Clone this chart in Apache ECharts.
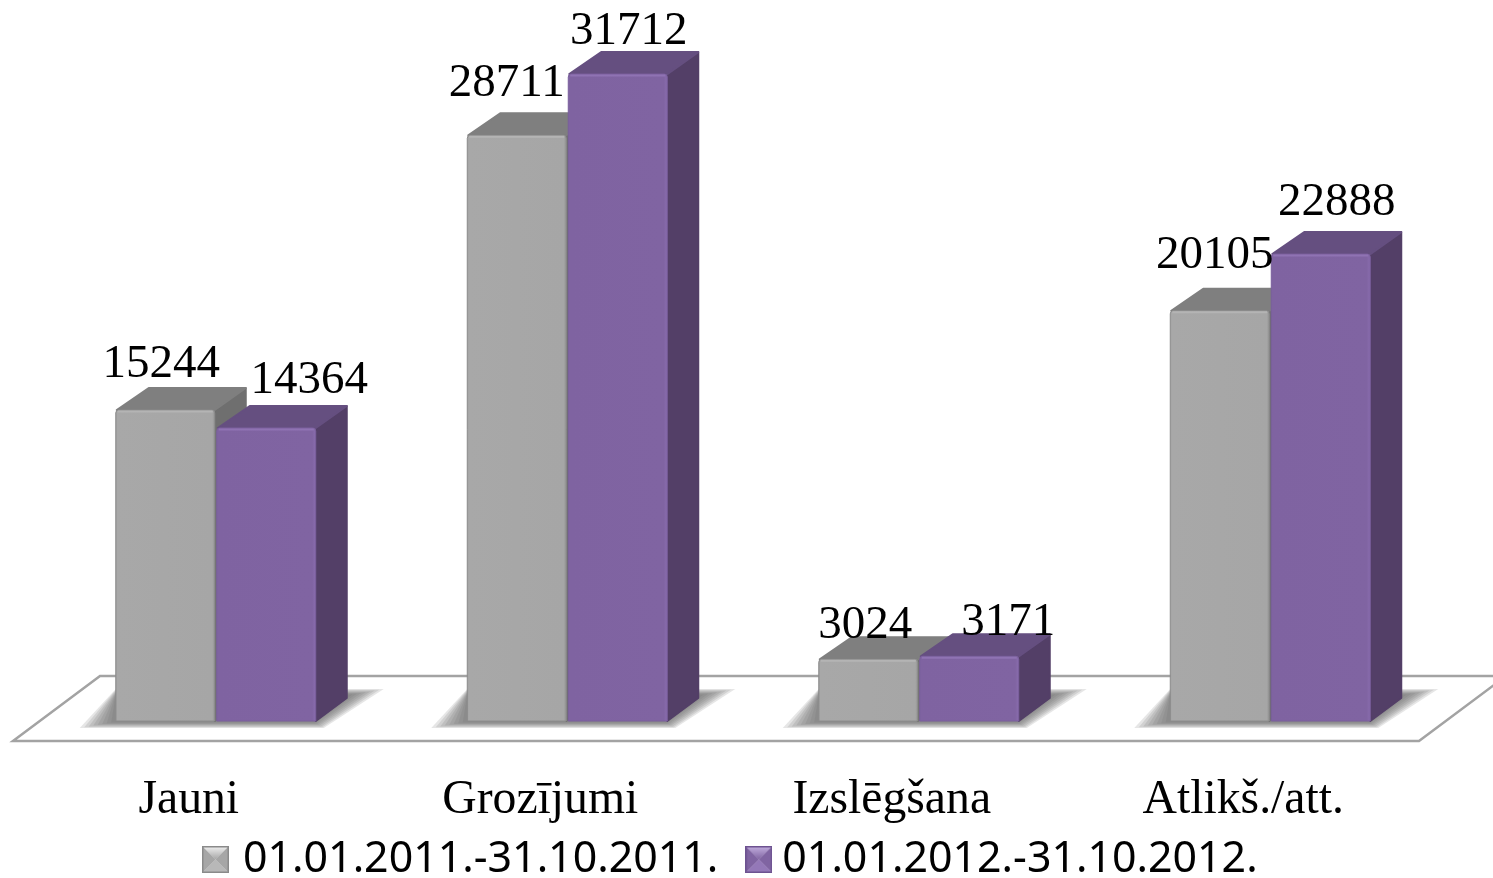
<!DOCTYPE html>
<html>
<head>
<meta charset="utf-8">
<style>
  html, body { margin: 0; padding: 0; background: #fff; }
  #chart { width: 1493px; height: 878px; }
</style>
<script src="https://cdn.jsdelivr.net/npm/echarts@6/dist/echarts.min.js"></script>
</head>
<body>
<div id="chart"></div>
<script>
var categories = ["Jauni", "Grozījumi", "Izslēgšana", "Atlikš./att."];
var seriesNames = ["01.01.2011.-31.10.2011.", "01.01.2012.-31.10.2012."];
var values2011 = [15244, 28711, 3024, 20105];
var values2012 = [14364, 31712, 3171, 22888];

// label nudges [dx, dy] from the centre of the front face top, the source chart had them hand placed
var labelNudge2011 = [[-4, -45], [-10, -52], [-3, -34], [-5, -55]];
var labelNudge2012 = [[43, -47], [11, -42], [39, -34], [16, -51]];

var DEPTH_X = 32;
var DEPTH_Y = 23;
var BAR_WIDTH = 100;
var GROUP_SHIFT = 27;

var faces = [
  {
    front: [[0, "#969696"], [0.02, "#a8a8a8"], [0.97, "#a6a6a6"], [1, "#8f8f8f"]],
    border: "#8c8c8c",
    rim: "#b4b4b4",
    top: "#7f7f7f",
    side: "#6f6f6f",
    swatch: ["#f2f2f2", "#a6a6a6", "#b8b8b8", "#8a8a8a"]
  },
  {
    front: [[0, "#7d62a0"], [0.02, "#7f63a1"], [0.96, "#8064a2"], [1, "#8b6eb0"]],
    border: "#7a5f9c",
    rim: "#8f73b3",
    top: "#654f80",
    side: "#533f67",
    swatch: ["#c4b0e0", "#8064a2", "#9478b8", "#6d5290"]
  }
];

function gradient(stops) {
  return new echarts.graphic.LinearGradient(0, 0, 1, 0, stops.map(function (s) {
    return { offset: s[0], color: s[1] };
  }));
}

// bevelled legend swatch, four triangles like the office 3d key
function swatchIcon(f) {
  var size = 54;
  var c = document.createElement("canvas");
  c.width = size;
  c.height = size;
  var ctx = c.getContext("2d");
  var tris = [
    [[0, 0], [size, 0], [size / 2, size / 2]],
    [[0, 0], [0, size], [size / 2, size / 2]],
    [[size, 0], [size, size], [size / 2, size / 2]],
    [[0, size], [size, size], [size / 2, size / 2]]
  ];
  var fills = [f.swatch[0], f.swatch[1], f.swatch[1], f.swatch[2]];
  tris.forEach(function (t, i) {
    ctx.beginPath();
    ctx.moveTo(t[0][0], t[0][1]);
    ctx.lineTo(t[1][0], t[1][1]);
    ctx.lineTo(t[2][0], t[2][1]);
    ctx.closePath();
    if (i === 0) {
      var g = ctx.createLinearGradient(0, 0, 0, size / 2);
      g.addColorStop(0, f.swatch[0]);
      g.addColorStop(1, f.swatch[1]);
      ctx.fillStyle = g;
    } else {
      ctx.fillStyle = fills[i];
    }
    ctx.fill();
  });
  ctx.strokeStyle = f.swatch[3];
  ctx.lineWidth = 3;
  ctx.strokeRect(1.5, 1.5, size - 3, size - 3);
  return "image://" + c.toDataURL();
}

function barRenderer(seriesIdx, nudges) {
  return function (params, api) {
    var i = api.value(0);
    var top = api.coord([i, api.value(1)]);
    var base = api.coord([i, 0]);
    var x0 = top[0] + GROUP_SHIFT - BAR_WIDTH + seriesIdx * BAR_WIDTH + seriesIdx;
    var x1 = x0 + BAR_WIDTH - 1;
    var yt = top[1];
    var yb = base[1];
    var f = faces[seriesIdx];
    var z = seriesIdx + 1;
    return {
      type: "group",
      children: [
        {
          type: "polygon",
          z2: z,
          shape: { points: [[x1, yt], [x1 + DEPTH_X - 1, yt - DEPTH_Y + 1], [x1 + DEPTH_X - 1, yb - DEPTH_Y], [x1, yb]] },
          style: { fill: f.side, stroke: f.side, lineWidth: 2, lineJoin: "round" }
        },
        {
          type: "polygon",
          z2: z,
          shape: { points: [[x0 + 1, yt], [x0 + DEPTH_X + 1, yt - DEPTH_Y + 1], [x1 + DEPTH_X - 1, yt - DEPTH_Y + 1], [x1, yt]] },
          style: { fill: f.top, stroke: f.top, lineWidth: 2, lineJoin: "round" }
        },
        {
          type: "rect",
          z2: z,
          shape: { x: x0, y: yt, width: x1 - x0, height: yb - yt, r: [3, 3, 0, 0] },
          style: { fill: gradient(f.front), stroke: f.border, lineWidth: 1 }
        },
        {
          type: "line",
          z2: z,
          shape: { x1: x0 + 2, y1: yt + 1.5, x2: x1 - 2, y2: yt + 1.5 },
          style: { stroke: f.rim, lineWidth: 2 }
        },
        {
          type: "text",
          z2: 100,
          style: {
            text: String(api.value(1)),
            x: (x0 + x1) / 2 + nudges[i][0],
            y: yt + nudges[i][1],
            align: "center",
            verticalAlign: "middle",
            fontFamily: "Liberation Serif",
            fontSize: 47,
            fill: "#000"
          }
        }
      ]
    };
  };
}

function floorRenderer(params) {
  var g = params.coordSys;
  var front = g.y + g.height + 20;
  var back = g.y + g.height - 45;
  var slant = 87;
  return {
    type: "polygon",
    shape: {
      points: [
        [g.x, front],
        [g.x + slant, back],
        [g.x + g.width + slant, back],
        [g.x + g.width, front]
      ]
    },
    style: { fill: "#fff", stroke: "#a3a3a3", lineWidth: 2.5, lineJoin: "miter" }
  };
}

// soft floor shadow: stacked faint polygons shrinking inwards
function shadowRenderer(params, api) {
  var base = api.coord([api.value(0), 0]);
  var cx = base[0] + GROUP_SHIFT;
  var yb = base[1];
  var children = [];
  for (var k = 0; k < 9; k++) {
    var inX = k * 4.5;
    var inY = k * 0.8;
    children.push({
      type: "polygon",
      shape: {
        points: [
          [cx - BAR_WIDTH - 36 + inX, yb + 7 - inY],
          [cx + BAR_WIDTH + 8 - inX * 0.3, yb + 7 - inY],
          [cx + BAR_WIDTH + 68 - inX, yb - 32 + inY],
          [cx - BAR_WIDTH, yb - 32 + inY]
        ]
      },
      style: { fill: "rgba(105,105,105,0.17)" }
    });
  }
  return { type: "group", children: children };
}

function rows(values) {
  return values.map(function (v, i) { return [i, v]; });
}

var option = {
  animation: false,
  backgroundColor: "#fff",
  grid: { left: 13, width: 1406, top: 7, height: 714 },
  xAxis: {
    type: "category",
    data: categories,
    axisLine: { show: false },
    axisTick: { show: false },
    axisLabel: {
      margin: 55,
      fontFamily: "Liberation Serif",
      fontSize: 47.7,
      color: "#000"
    }
  },
  yAxis: { type: "value", min: 0, max: 35000, show: false, splitLine: { show: false } },
  legend: {
    left: 197,
    top: 833,
    itemWidth: 27,
    itemHeight: 27,
    itemGap: 27,
    data: [
      { name: seriesNames[0], icon: swatchIcon(faces[0]) },
      { name: seriesNames[1], icon: swatchIcon(faces[1]), textStyle: { padding: [0, 0, 0, 5] } }
    ],
    textStyle: {
      fontFamily: "Noto Sans",
      fontSize: 42.9,
      color: "#000",
      padding: [0, 0, 0, 9]
    }
  },
  series: [
    { type: "custom", name: "floor", z: 1, silent: true, data: [[0]], renderItem: floorRenderer },
    { type: "custom", name: "shadow", z: 2, silent: true, data: rows(values2011), renderItem: shadowRenderer },
    {
      type: "custom",
      name: seriesNames[0],
      z: 3,
      data: rows(values2011),
      encode: { x: 0, y: 1 },
      itemStyle: { color: "#a6a6a6" },
      renderItem: barRenderer(0, labelNudge2011)
    },
    {
      type: "custom",
      name: seriesNames[1],
      z: 3,
      data: rows(values2012),
      encode: { x: 0, y: 1 },
      itemStyle: { color: "#8064a2" },
      renderItem: barRenderer(1, labelNudge2012)
    }
  ]
};

var myChart = echarts.init(document.getElementById("chart"));
myChart.setOption(option);
</script>
</body>
</html>
